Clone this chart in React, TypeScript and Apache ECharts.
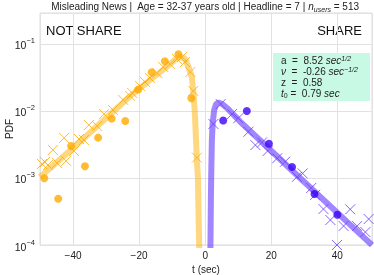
import React, { useEffect, useRef } from 'react';
import * as echarts from 'echarts';

// NOT SHARE (orange)
const notShareDotsT = [-48.7, -44.5, -40.6, -36.4, -32.4, -28.3, -24.2, -20.3, -16.2, -12.2, -8.1, -4.2];
const notShareDotsPdf = [9.9e-4, 4.9e-4, 3.0e-3, 1.5e-3, 4.0e-3, 7.7e-3, 7.1e-3, 0.0209, 0.0378, 0.0552, 0.0702, 0.0155];
const notShareCrossT = [-49.4, -48.5, -47.6, -46.1, -44.8, -42.7, -42.1, -39.7, -38.2, -36.7, -35.2, -32.7, -30.6, -27.9, -24.8, -22.7, -22.1, -19.7, -18.2, -16.7, -14.5, -12.7, -10.6, -8.5, -7.0, -6.1, -4.5, -3.6, -2.5];
const notShareCrossPdf = [1.62e-3, 1.73e-3, 1.56e-3, 2.62e-3, 1.67e-3, 3.96e-3, 1.8e-3, 2.53e-3, 3.82e-3, 3.69e-3, 6.18e-3, 5.97e-3, 9.0e-3, 0.01035, 0.0146, 0.01675, 0.0186, 0.0236, 0.0271, 0.0311, 0.0369, 0.0454, 0.0502, 0.0597, 0.064, 0.0538, 0.0382, 0.0199, 2.01e-3];
const notShareFitT = [-50, -40, -27.3, -22.7, -16.7, -12.1, -8.5, -7.3, -6.1, -5.06, -4.03, -3.55, -3.24, -3.03, -2.73, -2.52, -2.21, -2.03, -1.82, -1.7];
const notShareFitPdf = [1.035e-3, 2.81e-3, 0.01035, 0.01675, 0.029, 0.0438, 0.0618, 0.064, 0.0597, 0.0458, 0.0321, 0.0186, 0.01148, 7.35e-3, 3.33e-3, 1.86e-3, 1.035e-3, 3.33e-4, 1.0e-4, 5e-5];

// SHARE (purple)
const shareDotsT = [5.45, 12.6, 19.3, 26.3, 33.1, 40.0];
const shareDotsPdf = [7.2e-3, 0.01, 3.25e-3, 1.46e-3, 5.77e-4, 2.83e-4];
const shareCrossT = [2.5, 4.7, 8.1, 10.0, 13.1, 15.2, 17.2, 18.9, 21.8, 24.2, 27.8, 29.5, 32.1, 33.3, 35.8, 37.9, 39.9, 41.9, 43.9, 46.0, 48.5, 49.5];
const shareCrossPdf = [6.4e-3, 0.0127, 9.0e-3, 7.8e-3, 4.9e-3, 3.1e-3, 3.39e-3, 2.53e-3, 1.97e-3, 1.75e-3, 1.04e-3, 1.17e-3, 7.1e-4, 5.6e-4, 3.44e-4, 2.36e-4, 1.0e-4, 1.92e-4, 3.41e-4, 1.92e-4, 1.56e-4, 2.44e-4];
const shareFitT = [1.5, 1.6, 1.73, 1.82, 2.03, 2.27, 2.73, 3.33, 4.03, 5.15, 6.58, 10.6, 18.7, 26.7, 34.8, 42.9, 50.5];
const shareFitPdf = [5e-5, 1.0e-4, 4.7e-4, 1.035e-3, 3.69e-3, 6.62e-3, 0.01035, 0.0127, 0.0133, 0.0127, 0.0111, 6.92e-3, 2.93e-3, 1.24e-3, 5.26e-4, 2.23e-4, 1.0e-4];

const xTicks = [-40, -20, 0, 20, 40];

const ORANGE = '#ffaa00';
const ORANGE_LINE = 'rgba(255,176,0,0.5)';
const PURPLE_DOT = '#3b00f5';
const PURPLE_X = '#6a3cff';
const PURPLE_LINE = 'rgba(110,70,255,0.65)';
const FONT = 'Liberation Sans, Arial, sans-serif';

const zip = (a: number[], b: number[]) => a.map((v, i) => [v, b[i]]);
const CROSS = 'path://M0 0L10 10M10 0L0 10';

export default function App() {
  const ref = useRef<HTMLDivElement>(null);
  useEffect(() => {
    if (!ref.current) return;
    const chart = echarts.init(ref.current, undefined, { renderer: 'svg' });
    chart.setOption({
      animation: false,
      textStyle: { fontFamily: FONT },
      grid: {
        left: 40, right: 2, top: 13, bottom: 30,
        outerBoundsMode: 'none', containLabel: false,
        show: true, borderColor: '#dcdcdc', borderWidth: 1,
      },
      xAxis: {
        type: 'value',
        min: -50,
        max: 50.5,
        name: 't (sec)',
        nameLocation: 'middle',
        nameGap: 17,
        nameTextStyle: { fontSize: 10, color: '#222', fontFamily: FONT },
        axisLine: { show: false },
        axisTick: { show: false },
        axisLabel: {
          fontSize: 10,
          color: '#222',
          margin: 5,
          formatter: (v: number) => (xTicks.includes(v) ? String(v).replace('-', '\u2212') : ''),
        },
        splitLine: { show: true, lineStyle: { color: '#e2e2e2', width: 1 } },
      },
      yAxis: {
        type: 'log',
        logBase: 10,
        min: 1e-4,
        max: 0.29,
        axisLine: { show: false },
        axisTick: { show: false },
        axisLabel: {
          showMaxLabel: false,
          margin: 5,
          formatter: (v: number) => {
            const e = Math.round(Math.log10(v));
            if (Math.abs(Math.log10(v) - e) > 1e-6) return '';
            return `{b|10}{s|\u2212${-e}}`;
          },
          rich: {
            b: { fontSize: 10.5, color: '#222', fontFamily: FONT, verticalAlign: 'bottom', lineHeight: 14 },
            s: { fontSize: 7.5, color: '#222', fontFamily: FONT, verticalAlign: 'top', lineHeight: 14 },
          },
        },
        splitLine: { show: true, lineStyle: { color: '#e2e2e2', width: 1 } },
      },
      series: [
        {
          type: 'line',
          data: zip(notShareFitT, notShareFitPdf),
          showSymbol: false,
          lineStyle: { color: ORANGE_LINE, width: 6 },
          z: 1,
        },
        {
          type: 'line',
          data: zip(shareFitT, shareFitPdf),
          showSymbol: false,
          lineStyle: { color: PURPLE_LINE, width: 6 },
          z: 1,
        },
        {
          type: 'scatter',
          data: zip(notShareCrossT, notShareCrossPdf),
          symbol: CROSS,
          symbolSize: 10,
          itemStyle: { color: 'none', borderColor: ORANGE, borderWidth: 1 },
          z: 2,
        },
        {
          type: 'scatter',
          data: zip(shareCrossT, shareCrossPdf),
          symbol: CROSS,
          symbolSize: 10,
          itemStyle: { color: 'none', borderColor: PURPLE_X, borderWidth: 1 },
          z: 2,
        },
        {
          type: 'scatter',
          data: zip(notShareDotsT, notShareDotsPdf),
          symbol: 'circle',
          symbolSize: 8,
          itemStyle: { color: ORANGE },
          z: 3,
        },
        {
          type: 'scatter',
          data: zip(shareDotsT, shareDotsPdf),
          symbol: 'circle',
          symbolSize: 8,
          itemStyle: { color: PURPLE_DOT },
          z: 3,
        },
      ],
      graphic: [
        {
          type: 'text',
          x: 205,
          y: 0,
          style: {
            text: '{a|Misleading News |  Age = 32-37 years old | Headline = 7 | }{i|n}{u|users}{a| = 513}',
            align: 'center',
            rich: {
              a: { fontSize: 10, fill: '#222', fontFamily: FONT, lineHeight: 13, verticalAlign: 'middle' },
              i: { fontSize: 10, fill: '#222', fontFamily: FONT, fontStyle: 'italic', lineHeight: 13, verticalAlign: 'middle' },
              u: { fontSize: 7, fill: '#222', fontFamily: FONT, fontStyle: 'italic', lineHeight: 13, verticalAlign: 'bottom' },
            },
          },
        },
        {
          type: 'text',
          x: 9,
          y: 129,
          rotation: Math.PI / 2,
          style: { text: 'PDF', fontSize: 10, fill: '#222', fontFamily: FONT, align: 'center', verticalAlign: 'middle' },
        },
        {
          type: 'text',
          x: 46,
          y: 30,
          style: { text: 'NOT SHARE', fontSize: 13, fill: '#111', fontFamily: FONT, verticalAlign: 'middle' },
        },
        {
          type: 'text',
          x: 362,
          y: 30,
          style: { text: 'SHARE', fontSize: 13, fill: '#111', fontFamily: FONT, align: 'right', verticalAlign: 'middle' },
        },
        {
          type: 'rect',
          shape: { x: 273, y: 53, width: 97, height: 48 },
          style: { fill: '#c8f9e4' },
          z: 10,
        },
        {
          type: 'text',
          x: 281,
          y: 55,
          z: 11,
          style: {
            text: [
              '{t|a  =  8.52 }{it|sec}{sp|1/2}',
              '{it|ν}{t|  =  -0.26 }{it|sec}{sp|\u22121/2}',
              '{t|z  =  0.58}',
              '{it|t}{sb|0}{t| =  0.79 }{it|sec}',
            ].join('\n'),
            rich: {
              t: { fontSize: 10, fill: '#222', fontFamily: FONT, lineHeight: 11, verticalAlign: 'middle' },
              it: { fontSize: 10, fill: '#222', fontFamily: FONT, fontStyle: 'italic', lineHeight: 11, verticalAlign: 'middle' },
              sp: { fontSize: 7, fill: '#222', fontFamily: FONT, fontStyle: 'italic', lineHeight: 11, verticalAlign: 'top' },
              sb: { fontSize: 7, fill: '#222', fontFamily: FONT, lineHeight: 11, verticalAlign: 'bottom' },
            },
          },
        },
      ],
    });
    return () => chart.dispose();
  }, []);
  return <div ref={ref} style={{ position: 'fixed', left: 0, top: 0, width: 374, height: 275 }} />;
}
